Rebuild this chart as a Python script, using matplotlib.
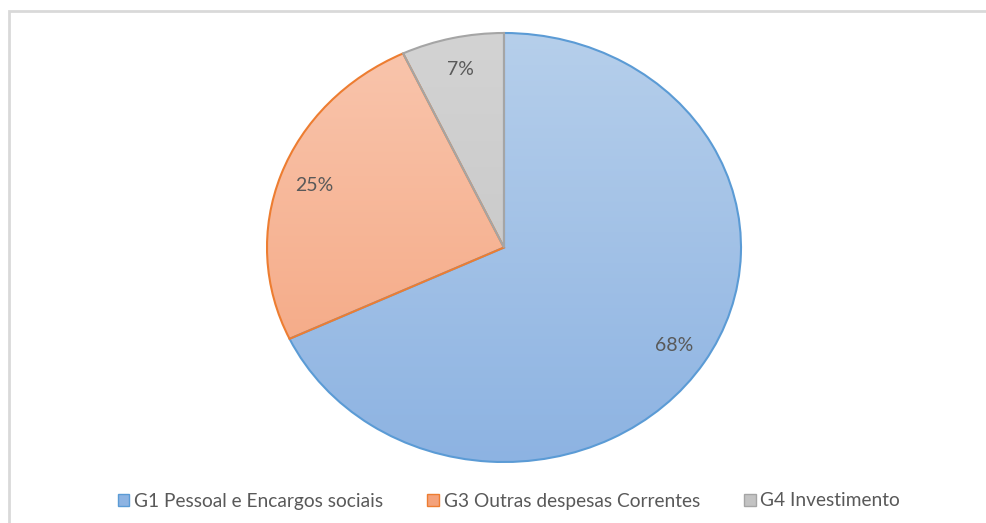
import numpy as np
import matplotlib
matplotlib.use("Agg")
import matplotlib.pyplot as plt
from matplotlib.patches import Patch, Rectangle
from matplotlib.colors import LinearSegmentedColormap

labels = ["G1 Pessoal e Encargos sociais", "G3 Outras despesas Correntes", "G4 Investimento"]
values = [68, 25, 7]
pct_labels = ["68%", "25%", "7%"]

# gradient top -> bottom, and edge colour
grad_cols = [("#b6cfeb", "#8db3e2"), ("#f9c6ae", "#f4a27b"), ("#d3d3d3", "#c3c3c3")]
edge_cols = ["#5b9bd5", "#ed7d31", "#a5a5a5"]
text_col = "#595959"

plt.rcParams['font.family'] = ['Lato', 'DejaVu Sans']

W, H = 987, 523
fig = plt.figure(figsize=(W / 100, H / 100), dpi=100)

# outer chart border
fig.patches.append(Rectangle((9 / W, -0.1), 1.2, (H - 11) / H + 0.1, transform=fig.transFigure,
                             fill=False, edgecolor="#d9d9d9", linewidth=2))

ax = fig.add_axes([267 / W, (H - 462) / H, 474 / W, 429 / H])
wedges, _ = ax.pie(values, startangle=90, counterclock=False, radius=1,
                   wedgeprops=dict(linewidth=1.5))
ax.set_aspect('auto')
ax.axis('off')

grad = np.linspace(1, 0, 256).reshape(-1, 1)
for w, (c1, c2), ec in zip(wedges, grad_cols, edge_cols):
    w.set_facecolor('none')
    w.set_edgecolor(ec)
    w.set_zorder(3)
    cm = LinearSegmentedColormap.from_list('g', [c2, c1])
    im = ax.imshow(grad, cmap=cm, extent=[-1, 1, -1, 1], aspect='auto', zorder=1)
    im.set_clip_path(w)

# percentage labels at wedge middles
start = 90.0
total = float(sum(values))
for v, t in zip(values, pct_labels):
    ang = np.deg2rad(start - 360 * v / total / 2)
    r = 0.85
    ax.text(r * np.cos(ang), r * np.sin(ang), t, ha='center', va='center',
            fontsize=14, color=text_col, zorder=5)
    start -= 360 * v / total

ax.set_xlim(-1, 1)
ax.set_ylim(-1, 1)

handles = [Patch(facecolor=c[1], edgecolor=e, linewidth=1) for c, e in zip(grad_cols, edge_cols)]
leg = fig.legend(handles, labels, loc='center', bbox_to_anchor=(509 / W, (H - 501) / H), ncol=3,
                 frameon=False, fontsize=13.8, handlelength=0.6, handleheight=0.6,
                 handletextpad=0.25, columnspacing=2.3, labelcolor=text_col)

fig.savefig("out.png", dpi=100)
